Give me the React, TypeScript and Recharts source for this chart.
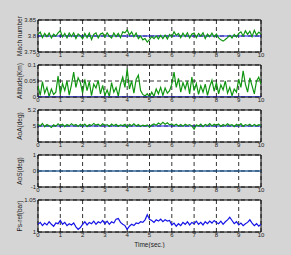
import React from 'react'
import { LineChart, Line, XAxis, YAxis, CartesianGrid, ReferenceArea } from 'recharts'

// time axis (sec.)
const TIME = [
  0, 0.1, 0.2, 0.3, 0.4, 0.5, 0.6, 0.7, 0.8, 0.9,
  1, 1.1, 1.2, 1.3, 1.4, 1.5, 1.6, 1.7, 1.8, 1.9,
  2, 2.1, 2.2, 2.3, 2.4, 2.5, 2.6, 2.7, 2.8, 2.9,
  3, 3.1, 3.2, 3.3, 3.4, 3.5, 3.6, 3.7, 3.8, 3.9,
  4, 4.1, 4.2, 4.3, 4.4, 4.5, 4.6, 4.7, 4.8, 4.9,
  5, 5.1, 5.2, 5.3, 5.4, 5.5, 5.6, 5.7, 5.8, 5.9,
  6, 6.1, 6.2, 6.3, 6.4, 6.5, 6.6, 6.7, 6.8, 6.9,
  7, 7.1, 7.2, 7.3, 7.4, 7.5, 7.6, 7.7, 7.8, 7.9,
  8, 8.1, 8.2, 8.3, 8.4, 8.5, 8.6, 8.7, 8.8, 8.9,
  9, 9.1, 9.2, 9.3, 9.4, 9.5, 9.6, 9.7, 9.8, 9.9,
  10,
]
const REF_TIME = [0, 10]
const TIME_TICKS = [0, 1, 2, 3, 4, 5, 6, 7, 8, 9, 10]

const MACH = [
  3.805, 3.812, 3.795, 3.808, 3.798, 3.809, 3.794, 3.806, 3.8, 3.81,
  3.816, 3.797, 3.808, 3.794, 3.809, 3.798, 3.81, 3.792, 3.806, 3.8,
  3.791, 3.808, 3.795, 3.809, 3.789, 3.805, 3.81, 3.794, 3.806, 3.809,
  3.797, 3.81, 3.8, 3.794, 3.809, 3.798, 3.808, 3.795, 3.813, 3.81,
  3.819, 3.803, 3.813, 3.798, 3.809, 3.792, 3.8, 3.788, 3.792, 3.781,
  3.789, 3.798, 3.792, 3.8, 3.791, 3.802, 3.792, 3.803, 3.791, 3.805,
  3.798, 3.813, 3.802, 3.808, 3.795, 3.809, 3.798, 3.81, 3.794, 3.806,
  3.809, 3.795, 3.808, 3.8, 3.81, 3.792, 3.806, 3.798, 3.809, 3.797,
  3.806, 3.794, 3.788, 3.784, 3.789, 3.795, 3.802, 3.794, 3.805, 3.797,
  3.808, 3.813, 3.8, 3.816, 3.805, 3.815, 3.798, 3.818, 3.803, 3.812,
  3.806,
]
const MACH_REF = [3.8, 3.8]

const ALTITUDE = [
  0.035, 0.005, 0.048, 0.012, 0.03, 0.002, 0.025, 0.008, 0.015, 0.065,
  0.01, 0.042, 0.02, 0.05, 0.006, 0.038, 0.078, 0.03, 0.06, 0.045,
  0.012, 0.055, 0.02, 0.048, 0.004, 0.04, 0.028, 0.052, 0.01, 0.036,
  0.005, 0.022, 0.002, 0.045, 0.015, 0.03, 0.003, 0.04, 0.062, 0.03,
  0.088, 0.025, 0.05, 0.012, 0.055, 0.068, 0.02, 0.008, 0.003, 0.01,
  0, 0.015, 0.002, 0.025, 0.01, 0.03, 0.005, 0.028, 0.012, 0.02,
  0.04, 0.078, 0.03, 0.058, 0.015, 0.045, 0.025, 0.05, 0.01, 0.062,
  0.02, 0.042, 0.008, 0.035, 0.015, 0.04, 0.005, 0.032, 0.052, 0.018,
  0.045, 0.01, 0.038, 0.022, 0.05, 0.012, 0.03, 0.004, 0.025, 0.015,
  0.055, 0.03, 0.082, 0.04, 0.015, 0.06, 0.035, 0.01, 0.05, 0.062,
  0.04,
]
const ALTITUDE_REF = [0, 0]

const AOA = [
  5.022, 5.0, 5.032, 4.991, 5.018, 5.004, 4.982, 5.014, 4.996, 5.027,
  5.005, 5.022, 4.993, 5.018, 5.002, 5.029, 5.007, 5.018, 4.995, 5.022,
  5.0, 5.025, 4.991, 5.018, 5.005, 5.032, 5.011, 5.022, 5.0, 5.027,
  5.007, 5.018, 4.996, 5.025, 5.004, 5.022, 4.998, 5.014, 5.005, 5.02,
  4.982, 5.022, 5.004, 5.027, 5.0, 5.018, 4.993, 5.011, 5.002, 5.014,
  4.986, 5.011, 5.025, 5.009, 5.036, 5.018, 5.045, 5.022, 5.04, 5.014,
  5.027, 5.005, 5.022, 5.0, 5.018, 4.996, 5.022, 5.007, 5.018, 5.0,
  4.96, 5.014, 5.0, 5.025, 4.991, 5.018, 5.005, 5.029, 5.0, 5.022,
  5.009, 5.025, 4.996, 5.018, 5.004, 5.029, 5.007, 5.016, 4.993, 5.022,
  5.004, 5.029, 4.996, 5.018, 5.007, 5.023, 4.998, 5.02, 5.002, 5.016,
  5.007,
]
const AOA_REF = [5, 5]

const AOS = [0, 0]
const AOS_REF = [0, 0]

const PS_REF = [
  1.012, 1.015, 1.01, 1.014, 1.011, 1.016, 1.012, 1.009, 1.014, 1.013,
  1.018, 1.012, 1.015, 1.01, 1.013, 1.011, 1.014, 1.008, 1.004, 1.007,
  1.012, 1.016, 1.011, 1.015, 1.013, 1.017, 1.012, 1.016, 1.014, 1.018,
  1.013, 1.017, 1.012, 1.016, 1.014, 1.02, 1.021, 1.015, 1.012, 1.01,
  1.004, 1.009, 1.012, 1.01, 1.014, 1.013, 1.016, 1.015, 1.019, 1.027,
  1.02, 1.018, 1.015, 1.019, 1.017, 1.02, 1.016, 1.019, 1.017, 1.018,
  1.011, 1.014, 1.009, 1.013, 1.01, 1.015, 1.012, 1.016, 1.011, 1.015,
  1.013, 1.017, 1.012, 1.015, 1.011, 1.016, 1.013, 1.017, 1.014, 1.018,
  1.015, 1.013, 1.017, 1.012, 1.016, 1.019, 1.023, 1.018, 1.013, 1.016,
  1.011, 1.014, 1.01, 1.013, 1.015, 1.019, 1.014, 1.01, 1.013, 1.009,
  1.012,
]

const GREEN = '#119611'
const BLUE = '#1414e6'
const FONT = '"Liberation Sans", Arial, sans-serif'

type Series = { x: number[]; y: number[]; color: string; opacity?: number }

interface PanelProps {
  top: number
  yLabel: string
  domain: [number, number]
  yTicks: number[]
  yTickFmt?: (v: number) => string
  series: Series[]
  xTitle?: string
}

const toRows = (x: number[], y: number[]) => x.map((t, i) => ({ t, v: y[i] }))

function Panel({ top, yLabel, domain, yTicks, yTickFmt, series, xTitle }: PanelProps) {
  const plotH = 32
  const padTop = 8
  const xAxisH = xTitle ? 16 : 8
  return (
    <div style={{ position: 'absolute', left: 0, top: top - padTop }}>
      <LineChart
        width={291}
        height={padTop + plotH + xAxisH}
        margin={{ top: padTop, right: 30, bottom: 0, left: 8 }}
      >
        <CartesianGrid fill="#ffffff" stroke="#000" strokeDasharray="4 3" strokeWidth={0.8} />
        <XAxis
          type="number"
          dataKey="t"
          domain={[0, 10]}
          ticks={TIME_TICKS}
          allowDataOverflow
          height={xAxisH}
          tickLine={false}
          axisLine={false}
          tickSize={0}
          tickMargin={1}
          tick={{ fontSize: 6, fill: '#222', fontFamily: FONT }}
          interval={0}
          label={xTitle ? { value: xTitle, position: 'insideBottom', offset: 1, fontSize: 6.5, fill: '#222', fontFamily: FONT } : undefined}
        />
        <YAxis
          type="number"
          domain={domain}
          ticks={yTicks}
          allowDataOverflow
          width={30}
          tickLine={false}
          axisLine={false}
          tickSize={0}
          tickMargin={2}
          interval={0}
          tickFormatter={yTickFmt}
          tick={{ fontSize: 6, fill: '#222', fontFamily: FONT }}
          label={{ value: yLabel, angle: -90, position: 'insideLeft', offset: 12, style: { textAnchor: 'middle' }, fontSize: 6.5, fill: '#222', fontFamily: FONT }}
        />
        {series.map((s, i) => (
          <Line
            key={i}
            data={toRows(s.x, s.y)}
            dataKey="v"
            stroke={s.color}
            strokeOpacity={s.opacity ?? 1}
            strokeWidth={1.2}
            dot={false}
            isAnimationActive={false}
          />
        ))}
        <ReferenceArea x1={0} x2={10} y1={domain[0]} y2={domain[1]} fill="none" fillOpacity={0} stroke="#000" strokeWidth={1} />
      </LineChart>
    </div>
  )
}

export default function App() {
  return (
    <div style={{ position: 'fixed', left: 0, top: 0, width: 291, height: 255, background: '#d5d5d5', overflow: 'hidden' }}>
      <Panel
        top={20}
        yLabel="Mach number"
        domain={[3.75, 3.85]}
        yTicks={[3.75, 3.8, 3.85]}
        series={[
          { x: REF_TIME, y: MACH_REF, color: BLUE },
          { x: TIME, y: MACH, color: GREEN },
        ]}
      />
      <Panel
        top={65}
        yLabel="Altitude(Km)"
        domain={[0, 0.1]}
        yTicks={[0, 0.05, 0.1]}
        series={[
          { x: TIME, y: ALTITUDE, color: GREEN },
          { x: REF_TIME, y: ALTITUDE_REF, color: BLUE },
        ]}
      />
      <Panel
        top={110}
        yLabel="AoA(deg)"
        domain={[4.8, 5.2]}
        yTicks={[4.8, 5, 5.2]}
        yTickFmt={(v) => (v === 4.8 ? '' : String(v))}
        series={[
          { x: REF_TIME, y: AOA_REF, color: BLUE },
          { x: TIME, y: AOA, color: GREEN },
        ]}
      />
      <Panel
        top={155}
        yLabel="AoS(deg)"
        domain={[-1, 1]}
        yTicks={[-1, 0, 1]}
        series={[
          { x: REF_TIME, y: AOS_REF, color: BLUE },
          { x: REF_TIME, y: AOS, color: GREEN, opacity: 0.55 },
        ]}
      />
      <Panel
        top={200}
        yLabel="Ps-ref(bar)"
        domain={[1, 1.05]}
        yTicks={[1, 1.05]}
        xTitle="Time(sec.)"
        series={[{ x: TIME, y: PS_REF, color: BLUE }]}
      />
    </div>
  )
}
